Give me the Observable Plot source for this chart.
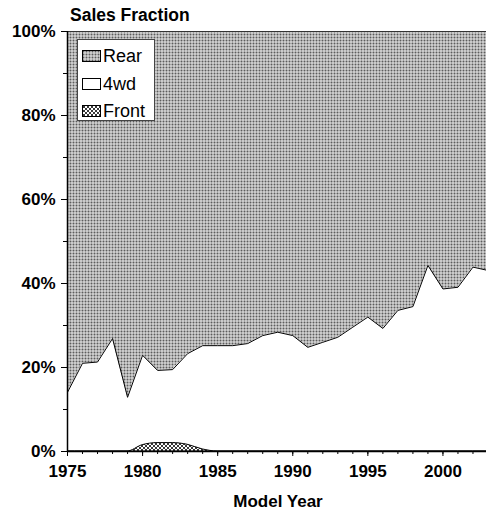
<!DOCTYPE html>
<html><head><meta charset="utf-8">
<script src="https://cdn.jsdelivr.net/npm/d3@7"></script>
<script src="https://cdn.jsdelivr.net/npm/@observablehq/plot@0.6"></script>
<style>
body{margin:0;background:#fff;font-family:"Liberation Sans",Arial,sans-serif;}
#wrap{position:relative;width:486px;height:519px;overflow:hidden;}
#title{position:absolute;left:70px;top:5px;font-weight:bold;font-size:17.5px;color:#000;}
#xlabel{position:absolute;left:0;width:556px;top:492px;text-align:center;font-weight:bold;font-size:17px;color:#000;}
#legend{position:absolute;left:77px;top:39px;width:78px;height:82px;border:1px solid #444;background:#fff;box-sizing:border-box;}
.item{position:absolute;left:4px;height:20px;display:flex;align-items:center;font-size:18px;color:#000;}
.item svg{margin-right:2px;}
</style></head><body>
<svg width="0" height="0" style="position:absolute">
  <defs>
    <pattern id="pRear" width="3" height="3" patternUnits="userSpaceOnUse">
      <rect width="3" height="3" fill="#d4d4d4"/>
      <circle cx="1.5" cy="1.5" r="1" fill="#5c5c5c"/>
    </pattern>
    <pattern id="pFront" width="4" height="4" patternUnits="userSpaceOnUse">
      <rect width="4" height="4" fill="#fff"/>
      <path d="M0,0L4,4M4,0L0,4" stroke="#222" stroke-width="0.9"/>
    </pattern>
  </defs>
</svg>
<div id="wrap">
  <div id="title">Sales Fraction</div>
  <div id="legend"></div>
  <div id="xlabel">Model Year</div>
</div>
<script>
const years = [1975,1976,1977,1978,1979,1980,1981,1982,1983,1984,1985,1986,1987,1988,1989,1990,1991,1992,1993,1994,1995,1996,1997,1998,1999,2000,2001,2002,2003];
const front = [0,0,0,0,0,1.5,2.0,2.0,1.6,0.5,0,0,0,0,0,0,0,0,0,0,0,0,0,0,0,0,0,0,0];
const fourWd = [14.1,21.0,21.3,26.9,12.9,21.4,17.3,17.5,21.7,24.7,25.2,25.2,25.7,27.6,28.4,27.6,24.8,26.0,27.2,29.6,32.0,29.3,33.6,34.5,44.3,38.7,39.1,43.9,43.1];
const rear = years.map((y,i)=>100-front[i]-fourWd[i]);
const seriesNames = ["Rear","4wd","Front"];
const yTicks = [0,20,40,60,80,100];
const xTicks = [1975,1980,1985,1990,1995,2000];

const rows = years.map((yr,i)=>({year:yr, f:front[i], w:front[i]+fourWd[i], t:front[i]+fourWd[i]+rear[i]}));

const chart = Plot.plot({
  width:486, height:519,
  marginLeft:67, marginRight:0, marginTop:31, marginBottom:68,
  x:{domain:[1975,2002.9], label:null},
  y:{domain:[0,100], label:null},
  style:{fontFamily:"Liberation Sans, Arial, sans-serif", fontSize:"17px", fontWeight:"bold", color:"#000", background:"transparent"},
  marks:[
    Plot.areaY(rows,{x:"year", y1:"w", y2:"t", fill:"url(#pRear)", clip:true}),
    Plot.lineY(rows,{x:"year", y:"w", stroke:"#000", strokeWidth:1, clip:true}),
    Plot.lineY(rows,{x:"year", y:"t", stroke:"#333", strokeWidth:1.2, clip:true}),
    Plot.areaY(rows,{x:"year", y1:0, y2:"f", fill:"url(#pFront)", stroke:"#000", strokeWidth:1, curve:"monotone-x", clip:true}),
    Plot.ruleY([0],{stroke:"#000", strokeWidth:1.5}),
    Plot.ruleX([1975],{y1:0, y2:100, stroke:"#000", strokeWidth:1.5}),
    Plot.axisY(d3.range(0,101,10),{tickSize:4, tickFormat:()=>"", stroke:"#000", label:null}),
    Plot.axisY(yTicks,{tickSize:6, tickPadding:6, tickFormat:d=>d+"%", fontSize:17, fontWeight:"bold", label:null}),
    Plot.axisX(d3.range(1975,2003,1),{tickSize:3, tickFormat:()=>"", stroke:"#000", label:null}),
    Plot.axisX(xTicks,{tickSize:5, tickPadding:8, tickFormat:d=>String(d), fontSize:17, fontWeight:"bold", label:null})
  ]
});
chart.style.position="absolute"; chart.style.left="0"; chart.style.top="0";
document.getElementById("wrap").prepend(chart);

const fills = {"Rear":"url(#pRear)","4wd":"#fff","Front":"url(#pFront)"};
const leg = document.getElementById("legend");
const tops = [6,34,61];
seriesNames.forEach((n,i)=>{
  const d=document.createElement("div"); d.className="item"; d.style.top=tops[i]+"px";
  d.innerHTML=`<svg width="19" height="12"><rect x="0.5" y="0.5" width="18" height="11" fill="${fills[n]}" stroke="#000"/></svg>${n}`;
  leg.appendChild(d);
});
</script>
</body></html>
